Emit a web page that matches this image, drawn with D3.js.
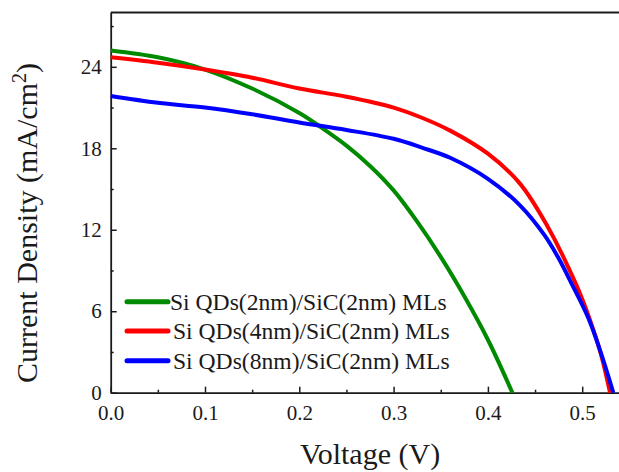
<!DOCTYPE html>
<html>
<head>
<meta charset="utf-8">
<script src="https://cdn.jsdelivr.net/npm/d3@7"></script>
<style>
  html, body { margin: 0; padding: 0; background: #ffffff; }
  svg { display: block; }
</style>
</head>
<body>
<div id="chart"></div>
<script>
// ---- data ----
const seriesNames = [
  "Si QDs(2nm)/SiC(2nm) MLs",
  "Si QDs(4nm)/SiC(2nm) MLs",
  "Si QDs(8nm)/SiC(2nm) MLs"
];
const seriesColors = ["#008a00", "#ff0000", "#0000ff"];

const voltage2nm = [0, 0.05, 0.1, 0.15, 0.2, 0.222, 0.25, 0.275, 0.3, 0.325, 0.35, 0.375, 0.4, 0.426];
const current2nm = [25.2, 24.7, 23.8, 22.4, 20.6, 19.6, 18.2, 16.7, 14.9, 12.6, 10.0, 7.1, 3.9, 0];

const voltage4nm = [0, 0.05, 0.1, 0.15, 0.2, 0.25, 0.3, 0.33, 0.36, 0.4, 0.434, 0.462, 0.494, 0.508, 0.52, 0.5295];
const current4nm = [24.7, 24.3, 23.8, 23.2, 22.4, 21.8, 21.0, 20.25, 19.3, 17.6, 15.4, 12.4, 7.9, 5.4, 2.8, 0];

const voltage8nm = [0, 0.05, 0.1, 0.15, 0.2, 0.25, 0.3, 0.33, 0.36, 0.4, 0.434, 0.46, 0.475, 0.489, 0.5065, 0.52, 0.533];
const current8nm = [21.85, 21.35, 21.0, 20.5, 19.9, 19.35, 18.7, 18.05, 17.3, 15.75, 13.8, 11.6, 9.9, 8.0, 5.5, 2.9, 0];

const xMajorTicks = [0, 0.1, 0.2, 0.3, 0.4, 0.5];
const xMinorTicks = [0.05, 0.15, 0.25, 0.35, 0.45];
const yMajorTicks = [0, 6, 12, 18, 24];
const yMinorTicks = [3, 9, 15, 21, 27];

const xDomain = [0, 0.55];
const yDomain = [0, 28];

// ---- layout ----
const FONT = "Liberation Serif, Times New Roman, serif";
const W = 619, H = 472;
const mLeft = 110.7, mBottom = 392.7, mTop = 12.5;
const mRight = mLeft + 0.55 * 943;

const svg = d3.select("#chart").append("svg")
  .attr("width", W).attr("height", H)
  .attr("font-family", FONT);

const x = d3.scaleLinear().domain(xDomain).range([mLeft, mRight]);
const y = d3.scaleLinear().domain(yDomain).range([mBottom, mTop]);

// top border
svg.append("line")
  .attr("x1", mLeft).attr("x2", mRight)
  .attr("y1", mTop).attr("y2", mTop)
  .attr("stroke", "#1a1a1a").attr("stroke-width", 1.8);

function styleAxis(g) {
  g.attr("font-family", FONT).attr("font-size", 21);
  g.select(".domain").attr("stroke", "#1a1a1a").attr("stroke-width", 1.8);
  g.selectAll(".tick line").attr("stroke", "#1a1a1a").attr("stroke-width", 1.5);
  g.selectAll(".tick text").attr("fill", "#1a1a1a");
}

// x axis minor
svg.append("g")
  .attr("transform", `translate(0,${mBottom})`)
  .call(d3.axisBottom(x).tickValues(xMinorTicks).tickFormat("").tickSizeInner(-3).tickSizeOuter(0))
  .call(styleAxis)
  .call(g => g.select(".domain").remove());

// x axis major
svg.append("g")
  .attr("transform", `translate(0,${mBottom})`)
  .call(d3.axisBottom(x).tickValues(xMajorTicks).tickFormat(d3.format(".1f"))
    .tickSizeInner(-6).tickSizeOuter(0).tickPadding(12))
  .call(styleAxis);

// y axis minor
svg.append("g")
  .attr("transform", `translate(${mLeft},0)`)
  .call(d3.axisLeft(y).tickValues(yMinorTicks).tickFormat("").tickSizeInner(-3).tickSizeOuter(0))
  .call(styleAxis)
  .call(g => g.select(".domain").remove());

// y axis major
svg.append("g")
  .attr("transform", `translate(${mLeft},0)`)
  .call(d3.axisLeft(y).tickValues(yMajorTicks).tickFormat(d3.format("d"))
    .tickSizeInner(-6).tickSizeOuter(0).tickPadding(9))
  .call(styleAxis);

// curves
const series = [
  { v: voltage2nm, j: current2nm },
  { v: voltage4nm, j: current4nm },
  { v: voltage8nm, j: current8nm }
];
const line = d3.line().x(d => x(d[0])).y(d => y(d[1])).curve(d3.curveCatmullRom.alpha(0.5));

series.forEach((s, i) => {
  const pts = s.v.map((v, k) => [v, s.j[k]]);
  svg.append("path")
    .datum(pts)
    .attr("d", line)
    .attr("fill", "none")
    .attr("stroke", seriesColors[i])
    .attr("stroke-width", 4)
    .attr("stroke-linejoin", "round");
});

// legend
const legendY = [6.7, 4.55, 2.35]; // rows, in current-density units
const legend = svg.append("g").attr("font-family", FONT).attr("font-size", 23.6);
seriesNames.forEach((name, i) => {
  const yy = y(legendY[i]);
  legend.append("line")
    .attr("x1", 127).attr("x2", 168)
    .attr("y1", yy).attr("y2", yy)
    .attr("stroke", seriesColors[i])
    .attr("stroke-width", 5)
    .attr("stroke-linecap", "round");
  legend.append("text")
    .attr("x", i === 0 ? 170 : 173)
    .attr("y", yy)
    .attr("dy", "0.33em")
    .attr("fill", "#1a1a1a")
    .text(name);
});

// axis titles
svg.append("text")
  .attr("x", 370).attr("y", 464)
  .attr("text-anchor", "middle")
  .attr("font-size", 30)
  .attr("fill", "#1a1a1a")
  .text("Voltage (V)");

const yt = svg.append("text")
  .attr("transform", "translate(37,223) rotate(-90)")
  .attr("text-anchor", "middle")
  .attr("font-size", 30)
  .attr("fill", "#1a1a1a");
yt.append("tspan").text("Current Density (mA/cm");
yt.append("tspan").attr("baseline-shift", "super").attr("font-size", 20).text("2");
yt.append("tspan").text(")");
</script>
</body>
</html>
